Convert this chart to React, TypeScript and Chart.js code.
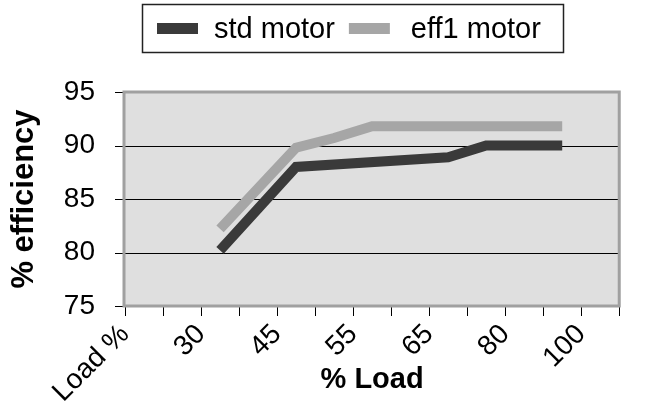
import React, { useEffect, useRef } from "react";
import { Chart, registerables } from "chart.js";

Chart.register(...registerables);

// 13 category slots between tick marks; labels sit on every 2nd tick mark
const slots = ["s1", "s2", "s3", "s4", "s5", "s6", "s7", "s8", "s9", "s10", "s11", "s12", "s13"];
const tickLabels = ["Load %", "30", "45", "55", "65", "80", "100"];
const stdMotor = [null, null, 80.2, null, 88.0, null, null, null, 88.9, 90.0, null, 90.0, null];
const eff1Motor = [null, null, 82.2, null, 89.8, 90.7, 91.8, null, null, null, null, 91.8, null];
const seriesNames = ["std motor", "eff1 motor"];
const seriesColors = ["#3a3a3a", "#a6a6a6"];

const W = 645;
const H = 403;
const FONT = "'Liberation Sans', Arial, sans-serif";

const frameAndLegend = {
  id: "frameAndLegend",
  beforeDatasetsDraw(chart: any) {
    const { ctx, chartArea: a } = chart;
    ctx.save();
    ctx.fillStyle = "#dfdfdf";
    ctx.fillRect(a.left, a.top, a.right - a.left, a.bottom - a.top);
    const ys = chart.scales.y;
    ctx.strokeStyle = "#000";
    ctx.lineWidth = 1;
    for (const t of ys.ticks) {
      const p = Math.round(ys.getPixelForValue(t.value)) + 0.5;
      ctx.beginPath();
      ctx.moveTo(a.left - 10, p);
      ctx.lineTo(a.right, p);
      ctx.stroke();
    }
    ctx.restore();
  },
  afterDraw(chart: any) {
    const { ctx, chartArea: a } = chart;
    ctx.save();
    ctx.strokeStyle = "#a0a0a0";
    ctx.lineWidth = 3;
    ctx.strokeRect(a.left - 1, a.top, a.right - a.left + 1, a.bottom - a.top);
    // legend
    const bx = 142.5, by = 4.5, bw = 421, bh = 48;
    ctx.strokeStyle = "#222";
    ctx.lineWidth = 1.5;
    ctx.strokeRect(bx, by, bw, bh);
    ctx.font = `29px ${FONT}`;
    ctx.textBaseline = "middle";
    ctx.textAlign = "left";
    let x = bx + 14.5;
    const cy = by + bh / 2;
    chart.data.datasets.forEach((ds: any, i: number) => {
      ctx.fillStyle = ds.borderColor;
      ctx.fillRect(x, cy - 5.5, 41, 11);
      x += 41 + (i === 0 ? 16 : 21);
      ctx.fillStyle = "#000";
      ctx.fillText(ds.label, x, cy + 1);
      x += ctx.measureText(ds.label).width + 14;
    });
    ctx.restore();
  },
};

export default function App() {
  const ref = useRef<HTMLCanvasElement>(null);
  useEffect(() => {
    if (!ref.current) return;
    const chart = new Chart(ref.current, {
      type: "line",
      data: {
        labels: slots,
        datasets: [
          {
            label: seriesNames[0],
            data: stdMotor,
            borderColor: seriesColors[0],
            backgroundColor: seriesColors[0],
            borderWidth: 10,
            pointRadius: 0,
            spanGaps: true,
            tension: 0,
            borderCapStyle: "butt",
            borderJoinStyle: "miter",
            xAxisID: "x",
          },
          {
            label: seriesNames[1],
            data: eff1Motor,
            borderColor: seriesColors[1],
            backgroundColor: seriesColors[1],
            borderWidth: 10,
            pointRadius: 0,
            spanGaps: true,
            tension: 0,
            borderCapStyle: "butt",
            borderJoinStyle: "miter",
            xAxisID: "x",
          },
        ],
      },
      options: {
        responsive: false,
        animation: false,
        events: [],
        layout: { padding: { top: 92, right: 1, left: 0, bottom: 0 } },
        plugins: { legend: { display: false }, tooltip: { enabled: false } },
        scales: {
          x: {
            type: "category",
            offset: true,
            display: false,
          },
          xl: {
            type: "linear",
            position: "bottom",
            min: 0,
            max: slots.length,
            afterBuildTicks(scale: any) {
              scale.ticks = Array.from({ length: slots.length + 1 }, (_, i) => ({ value: i }));
            },
            afterFit(scale: any) {
              scale.height = H - 306;
            },
            border: { display: false },
            grid: { drawOnChartArea: false, drawTicks: true, tickLength: 10, color: "#000", lineWidth: 1 },
            ticks: {
              autoSkip: false,
              minRotation: 45,
              maxRotation: 45,
              padding: 2,
              color: "#000",
              font: { family: FONT, size: 28 },
              callback: (v: any) => (Number(v) % 2 === 0 ? tickLabels[Number(v) / 2] ?? "" : ""),
            },
            title: {
              display: true,
              text: "% Load",
              color: "#000",
              font: { family: FONT, size: 29, weight: "bold" },
              padding: { top: 0, bottom: 6 },
            },
          },
          y: {
            min: 75,
            max: 95,
            afterFit(scale: any) {
              scale.width = 125;
            },
            border: { display: false },
            grid: { display: false },
            ticks: {
              stepSize: 5,
              padding: 22,
              color: "#000",
              font: { family: FONT, size: 28 },
            },
            title: {
              display: true,
              text: "% efficiency",
              color: "#000",
              font: { family: FONT, size: 31, weight: "bold" },
              padding: { top: 6, bottom: 0 },
            },
          },
        },
      },
      plugins: [frameAndLegend],
    } as any);
    return () => chart.destroy();
  }, []);
  return (
    <div style={{ position: "fixed", left: 0, top: 0, width: W, height: H, background: "#fff" }}>
      <canvas ref={ref} width={W} height={H} style={{ width: W, height: H, display: "block" }} />
    </div>
  );
}
